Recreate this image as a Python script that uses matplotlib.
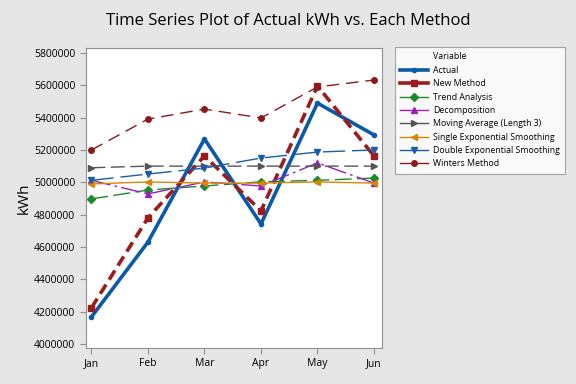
import matplotlib
matplotlib.use('Agg')
import matplotlib.pyplot as plt
from matplotlib.lines import Line2D

plt.rcParams['font.family'] = ['Open Sans', 'DejaVu Sans']

months = ['Jan', 'Feb', 'Mar', 'Apr', 'May', 'Jun']

actual = [4167000, 4630000, 5268000, 4742000, 5490000, 5293000]
new_method = [4223000, 4780000, 5163000, 4823000, 5596000, 5163000]
trend = [4897000, 4952000, 4977000, 5003000, 5012000, 5026000]
decomposition = [5012000, 4928000, 5002000, 4977000, 5120000, 4995000]
moving_avg = [5090000, 5100000, 5100000, 5100000, 5100000, 5100000]
single_exp = [4990000, 5002000, 4995000, 4995000, 5002000, 4995000]
double_exp = [5012000, 5051000, 5088000, 5150000, 5187000, 5200000]
winters = [5200000, 5391000, 5453000, 5398000, 5590000, 5633000]

yticks = [4000000, 4200000, 4400000, 4600000, 4800000, 5000000,
          5200000, 5400000, 5600000, 5800000]

series = [
    # label, data, color, linewidth, linestyle, marker, markersize
    ('Actual', actual, '#0a5aa8', 2.6, '-', 'o', 3),
    ('New Method', new_method, '#9b1c1c', 2.6, (0, (3, 1.6)), 's', 4),
    ('Trend Analysis', trend, '#1a8a2a', 1.0, (0, (12, 4)), 'D', 4),
    ('Decomposition', decomposition, '#9a1fb8', 1.0, (0, (14, 3, 2, 3)), '^', 4.5),
    ('Moving Average (Length 3)', moving_avg, '#555555', 1.0, (0, (10, 4)), '>', 4.5),
    ('Single Exponential Smoothing', single_exp, '#d4870a', 1.0, '-', '<', 4.5),
    ('Double Exponential Smoothing', double_exp, '#1a5ea8', 1.0, (0, (16, 5)), 'v', 4.5),
    ('Winters Method', winters, '#8b1a1a', 1.0, (0, (9, 5)), 'o', 4),
]

fig = plt.figure(figsize=(5.76, 3.84), dpi=100, facecolor='#e6e6e6')
ax = fig.add_axes([0.149, 0.094, 0.514, 0.781])
ax.set_facecolor('white')

x = list(range(len(months)))
handles = [Line2D([], [], linestyle='none', label='Variable')]
for label, data, color, lw, ls, mk, ms in series:
    ax.plot(x, data, color=color, linewidth=lw, linestyle=ls,
            marker=mk, markersize=ms, label=label)
    handles.append(Line2D([], [], color=color, linewidth=lw,
                          linestyle='-', marker=mk, markersize=ms, label=label))

ax.set_xlim(-0.1, 5.14)
ax.set_ylim(3975000, 5831000)
ax.set_xticks(x)
ax.set_xticklabels(months)
ax.set_yticks(yticks)
ax.set_yticklabels([str(v) for v in yticks])
ax.tick_params(labelsize=7.5, color='#909090', length=4)
for s in ax.spines.values():
    s.set_color('#909090')

ax.set_ylabel('kWh', fontsize=11, labelpad=2)
fig.text(0.5, 0.945, 'Time Series Plot of Actual kWh vs. Each Method',
         ha='center', va='center', fontsize=12)

leg = fig.legend(handles=handles, loc='upper left',
                 bbox_to_anchor=(0.686, 0.877), fontsize=6.3,
                 frameon=True, fancybox=False, edgecolor='#909090',
                 handlelength=3.2, handletextpad=0.5, labelspacing=0.5,
                 borderpad=0.6, borderaxespad=0)
leg.get_frame().set_linewidth(0.8)

fig.savefig('out.png', dpi=100, facecolor=fig.get_facecolor())
